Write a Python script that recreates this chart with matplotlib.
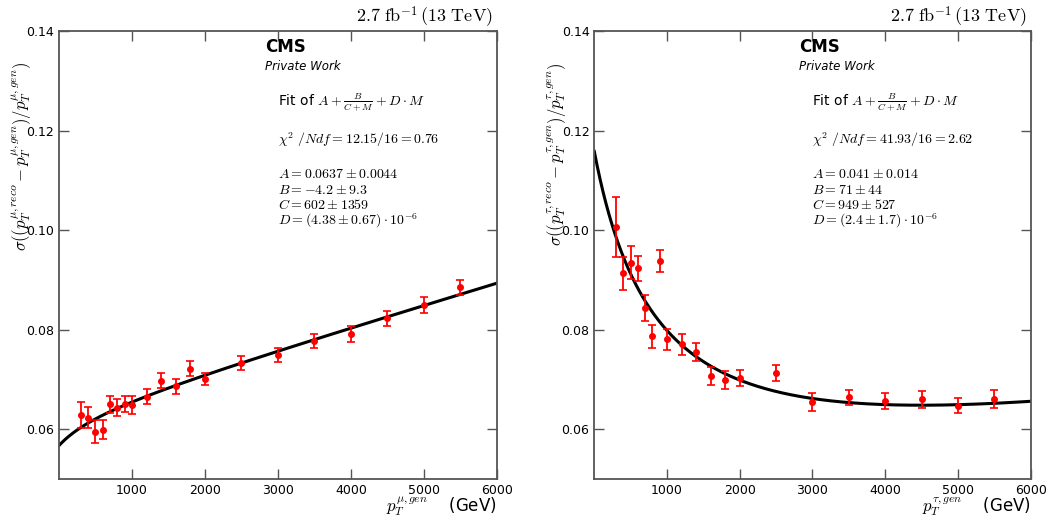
import numpy as np
import matplotlib
matplotlib.use('Agg')
import matplotlib.pyplot as plt

plt.rcParams['mathtext.fontset'] = 'cm'
plt.rcParams['font.family'] = ['DejaVu Sans']

# Messpunkte (pT gen in GeV)
pt_points = [300, 400, 500, 600, 700, 800, 900, 1000, 1200, 1400,
             1600, 1800, 2000, 2500, 3000, 3500, 4000, 4500, 5000, 5500]

# Myon
mu_sigma = [0.0628, 0.0623, 0.0595, 0.0599, 0.0650, 0.0643, 0.0650, 0.0648, 0.0665, 0.0697,
            0.0686, 0.0722, 0.0701, 0.0734, 0.0750, 0.0777, 0.0791, 0.0823, 0.0850, 0.0885]
mu_err = [0.0026, 0.0021, 0.0023, 0.0019, 0.0017, 0.0017, 0.0016, 0.0018, 0.0015, 0.0015,
          0.0015, 0.0015, 0.0013, 0.0014, 0.0014, 0.0014, 0.0016, 0.0015, 0.0016, 0.0015]
mu_fit = [0.0637, -4.2, 602, 4.38e-6]  # A, B, C, D

# Tau
tau_sigma = [0.1007, 0.0913, 0.0935, 0.0923, 0.0843, 0.0787, 0.0938, 0.0781, 0.0771, 0.0756,
             0.0707, 0.0699, 0.0703, 0.0713, 0.0654, 0.0664, 0.0656, 0.0660, 0.0647, 0.0660]
tau_err = [0.0060, 0.0034, 0.0033, 0.0026, 0.0026, 0.0023, 0.0023, 0.0021, 0.0021, 0.0018,
           0.0018, 0.0018, 0.0017, 0.0017, 0.0018, 0.0015, 0.0016, 0.0017, 0.0015, 0.0018]
tau_fit = [0.041, 71, 949, 2.4e-6]

panels = [
    dict(y=mu_sigma, err=mu_err, fit=mu_fit, lep=r'\mu',
         chi2=r'$\chi^2\ /Ndf = 12.15/16 = 0.76$',
         pars=[r'$A = 0.0637 \pm 0.0044$', r'$B = -4.2 \pm 9.3$',
               r'$C = 602 \pm 1359$', r'$D = (4.38 \pm 0.67)\cdot 10^{-6}$']),
    dict(y=tau_sigma, err=tau_err, fit=tau_fit, lep=r'\tau',
         chi2=r'$\chi^2\ /Ndf = 41.93/16 = 2.62$',
         pars=[r'$A = 0.041 \pm 0.014$', r'$B = 71 \pm 44$',
               r'$C = 949 \pm 527$', r'$D = (2.4 \pm 1.7)\cdot 10^{-6}$']),
]

fig = plt.figure(figsize=(10.5, 5.2), dpi=100)
ax_pos = [[0.0562, 0.0788, 0.417, 0.8615], [0.566, 0.0788, 0.4156, 0.8615]]

for pos, p in zip(ax_pos, panels):
    ax = fig.add_axes(pos)
    A, B, C, D = p['fit']
    m = np.linspace(0, 6000, 600)
    ax.plot(m, A + B / (C + m) + D * m, color='black', lw=2.2, zorder=2)
    ax.errorbar(pt_points, p['y'], yerr=p['err'], fmt='o', color='red', ms=4,
                elinewidth=1.3, capsize=3, capthick=1.2, zorder=3)

    ax.set_xlim(0, 6000)
    ax.set_ylim(0.05, 0.14)
    ax.set_xticks([1000, 2000, 3000, 4000, 5000, 6000])
    ax.set_yticks([0.06, 0.08, 0.10, 0.12, 0.14])
    ax.yaxis.set_major_formatter(matplotlib.ticker.FormatStrFormatter('%.2f'))
    ax.tick_params(direction='in', top=True, right=True, length=7, width=1,
                   color='#555555', labelsize=9)
    for s in ax.spines.values():
        s.set_color('#555555')
        s.set_linewidth(1.3)

    lep = p['lep']
    ax.text(-0.084, 0.93,
            r'$\sigma((p_T^{%s,reco} - p_T^{%s,gen})/p_T^{%s,gen})$' % (lep, lep, lep),
            transform=ax.transAxes, rotation=90, ha='center', va='top', fontsize=12)
    ax.text(1.0, -0.035, r'$p_T^{%s,gen}$    (GeV)' % lep, transform=ax.transAxes,
            ha='right', va='top', fontsize=12)
    ax.text(0.99, 1.003, r'$2.7\ \mathrm{fb}^{-1}\,(13\ \mathrm{TeV})$',
            transform=ax.transAxes, ha='right', va='bottom', fontsize=13)

    ax.text(0.47, 0.984, 'CMS', transform=ax.transAxes, ha='left', va='top',
            fontsize=12, fontweight='bold')
    ax.text(0.47, 0.935, 'Private Work', transform=ax.transAxes, ha='left', va='top',
            fontsize=8.5, style='italic')
    ax.text(0.50, 0.839, r'Fit of $A + \frac{B}{C+M} + D\cdot M$', transform=ax.transAxes,
            ha='left', va='center', fontsize=10)
    ax.text(0.50, 0.757, p['chi2'], transform=ax.transAxes, ha='left', va='center',
            fontsize=10)
    for i, t in enumerate(p['pars']):
        ax.text(0.50, 0.681 - i * 0.035, t, transform=ax.transAxes, ha='left',
                va='center', fontsize=10)

fig.savefig('out.png', dpi=100)
